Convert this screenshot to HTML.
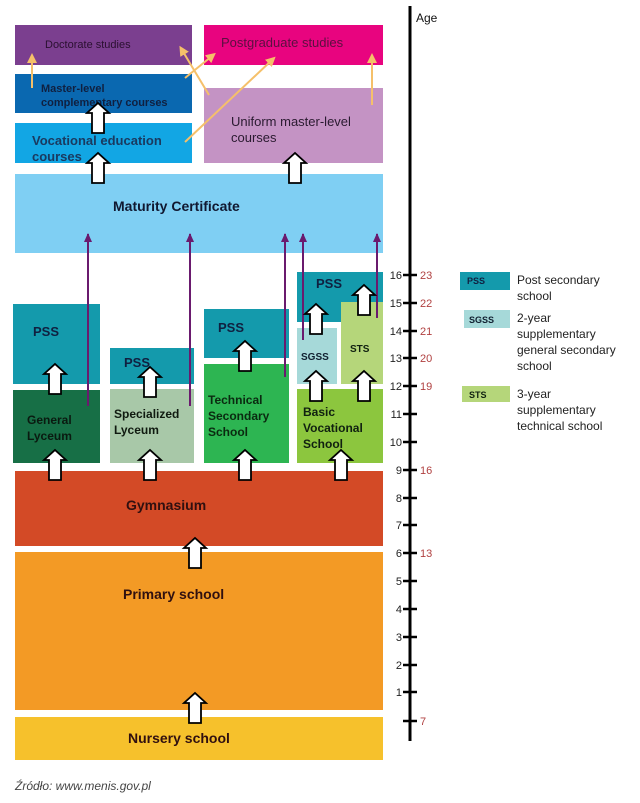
<!DOCTYPE html>
<html><head><meta charset="utf-8"><style>
body{margin:0;background:#fff;}
svg{display:block;font-family:"Liberation Sans",Arial,sans-serif;}
</style></head><body>
<svg width="640" height="803" viewBox="0 0 640 803" xmlns="http://www.w3.org/2000/svg">
<defs>
<g id="wa"><path d="M-6,30 L-6,10 L-11,10 L0,0 L11,10 L6,10 L6,30 Z" fill="#fff" stroke="#000" stroke-width="1.8"/></g>
<marker id="pa" markerWidth="9" markerHeight="9" refX="8" refY="4" orient="auto" markerUnits="userSpaceOnUse"><path d="M0,0 L9,4 L0,8 Z" fill="#6a1a6e"/></marker>
<marker id="ya" markerWidth="10" markerHeight="10" refX="5" refY="5" orient="auto" markerUnits="userSpaceOnUse"><path d="M0,0 L10,5 L0,10 Z" fill="#f5c06a"/></marker>
</defs>
<rect x="15" y="25" width="177" height="40" fill="#7b3f8f"/>
<text x="45" y="48" font-size="11" fill="#2a1030">Doctorate studies</text>
<rect x="204" y="25" width="179" height="40" fill="#e8047f"/>
<text x="221" y="47" font-size="13" fill="#5a1040">Postgraduate studies</text>
<rect x="15" y="74" width="177" height="39" fill="#0a68b0"/>
<text x="41" y="92" font-size="11" font-weight="bold" fill="#102040">Master-level</text>
<text x="41" y="106" font-size="11" font-weight="bold" fill="#102040">complementary courses</text>
<rect x="15" y="123" width="177" height="40" fill="#12a6e4"/>
<text x="32" y="145" font-size="13" font-weight="bold" fill="#1a3a60">Vocational education</text>
<text x="32" y="161" font-size="13" font-weight="bold" fill="#1a3a60">courses</text>
<rect x="204" y="88" width="179" height="75" fill="#c493c4"/>
<text x="231" y="126" font-size="13" fill="#2a1a30">Uniform master-level</text>
<text x="231" y="142" font-size="13" fill="#2a1a30">courses</text>
<rect x="15" y="174" width="368" height="79" fill="#7fcff3"/>
<text x="113" y="211" font-size="14" font-weight="bold" fill="#101830">Maturity Certificate</text>
<g stroke="#f5c06a" stroke-width="2" fill="none">
<line x1="32" y1="88" x2="32" y2="58" marker-end="url(#ya)"/>
<line x1="209" y1="95" x2="182" y2="50" marker-end="url(#ya)"/>
<line x1="185" y1="78" x2="212" y2="56" marker-end="url(#ya)"/>
<line x1="185" y1="142" x2="272" y2="60" marker-end="url(#ya)"/>
<line x1="372" y1="105" x2="372" y2="58" marker-end="url(#ya)"/>
</g>
<rect x="13" y="304" width="87" height="80" fill="#149aac"/>
<text x="33" y="336" font-size="13" font-weight="bold" fill="#102040">PSS</text>
<rect x="13" y="390" width="87" height="73" fill="#176f46"/>
<text x="27" y="424" font-size="12" font-weight="bold" fill="#0a1a10">General</text>
<text x="27" y="440" font-size="12" font-weight="bold" fill="#0a1a10">Lyceum</text>
<rect x="110" y="348" width="84" height="36" fill="#149aac"/>
<text x="124" y="367" font-size="13" font-weight="bold" fill="#102040">PSS</text>
<rect x="110" y="389" width="84" height="74" fill="#a8c8a8"/>
<text x="114" y="418" font-size="12" font-weight="bold" fill="#101a10">Specialized</text>
<text x="114" y="434" font-size="12" font-weight="bold" fill="#101a10">Lyceum</text>
<rect x="204" y="309" width="85" height="49" fill="#149aac"/>
<text x="218" y="332" font-size="13" font-weight="bold" fill="#102040">PSS</text>
<rect x="204" y="364" width="85" height="99" fill="#2db552"/>
<text x="208" y="404" font-size="12" font-weight="bold" fill="#0a2a10">Technical</text>
<text x="208" y="420" font-size="12" font-weight="bold" fill="#0a2a10">Secondary</text>
<text x="208" y="436" font-size="12" font-weight="bold" fill="#0a2a10">School</text>
<rect x="297" y="272" width="86" height="50" fill="#149aac"/>
<text x="316" y="288" font-size="13" font-weight="bold" fill="#102040">PSS</text>
<rect x="297" y="328" width="40" height="56" fill="#a6d9d9"/>
<text x="301" y="360" font-size="10" font-weight="bold" fill="#102030">SGSS</text>
<rect x="341" y="302" width="42" height="82" fill="#b5d67a"/>
<text x="350" y="352" font-size="10" font-weight="bold" fill="#102010">STS</text>
<rect x="297" y="389" width="86" height="74" fill="#8cc63e"/>
<text x="303" y="416" font-size="12" font-weight="bold" fill="#102010">Basic</text>
<text x="303" y="432" font-size="12" font-weight="bold" fill="#102010">Vocational</text>
<text x="303" y="448" font-size="12" font-weight="bold" fill="#102010">School</text>
<rect x="15" y="471" width="368" height="75" fill="#d34a26"/>
<text x="126" y="510" font-size="14" font-weight="bold" fill="#301010">Gymnasium</text>
<rect x="15" y="552" width="368" height="158" fill="#f39a25"/>
<text x="123" y="599" font-size="14" font-weight="bold" fill="#301010">Primary school</text>
<rect x="15" y="717" width="368" height="43" fill="#f6c12c"/>
<text x="128" y="743" font-size="14" font-weight="bold" fill="#301010">Nursery school</text>
<g stroke="#6a1a6e" stroke-width="2">
<line x1="88" y1="406" x2="88" y2="234" marker-end="url(#pa)"/>
<line x1="190" y1="406" x2="190" y2="234" marker-end="url(#pa)"/>
<line x1="285" y1="377" x2="285" y2="234" marker-end="url(#pa)"/>
<line x1="303" y1="340" x2="303" y2="234" marker-end="url(#pa)"/>
<line x1="377" y1="318" x2="377" y2="234" marker-end="url(#pa)"/>
</g>
<use href="#wa" x="98" y="103"/>
<use href="#wa" x="98" y="153"/>
<use href="#wa" x="295" y="153"/>
<use href="#wa" x="55" y="364"/>
<use href="#wa" x="55" y="450"/>
<use href="#wa" x="150" y="367"/>
<use href="#wa" x="150" y="450"/>
<use href="#wa" x="245" y="341"/>
<use href="#wa" x="245" y="450"/>
<use href="#wa" x="316" y="304"/>
<use href="#wa" x="364" y="285"/>
<use href="#wa" x="316" y="371"/>
<use href="#wa" x="364" y="371"/>
<use href="#wa" x="341" y="450"/>
<use href="#wa" x="195" y="538"/>
<use href="#wa" x="195" y="693"/>
<line x1="410" y1="6" x2="410" y2="741" stroke="#000" stroke-width="3"/>
<text x="416" y="22" font-size="12" fill="#111">Age</text>
<g stroke="#000" stroke-width="2.5">
<line x1="403" y1="275" x2="417" y2="275"/><line x1="403" y1="303" x2="417" y2="303"/>
<line x1="403" y1="331" x2="417" y2="331"/><line x1="403" y1="358" x2="417" y2="358"/>
<line x1="403" y1="386" x2="417" y2="386"/><line x1="403" y1="414" x2="417" y2="414"/>
<line x1="403" y1="442" x2="417" y2="442"/><line x1="403" y1="470" x2="417" y2="470"/>
<line x1="403" y1="498" x2="417" y2="498"/><line x1="403" y1="525" x2="417" y2="525"/>
<line x1="403" y1="553" x2="417" y2="553"/><line x1="403" y1="581" x2="417" y2="581"/>
<line x1="403" y1="609" x2="417" y2="609"/><line x1="403" y1="637" x2="417" y2="637"/>
<line x1="403" y1="665" x2="417" y2="665"/><line x1="403" y1="692" x2="417" y2="692"/>
<line x1="403" y1="721" x2="417" y2="721"/>
</g>
<g font-size="11" fill="#222" text-anchor="end">
<text x="402" y="279">16</text><text x="402" y="307">15</text><text x="402" y="335">14</text>
<text x="402" y="362">13</text><text x="402" y="390">12</text><text x="402" y="418">11</text>
<text x="402" y="446">10</text><text x="402" y="474">9</text><text x="402" y="502">8</text>
<text x="402" y="529">7</text><text x="402" y="557">6</text><text x="402" y="585">5</text>
<text x="402" y="613">4</text><text x="402" y="641">3</text><text x="402" y="669">2</text>
<text x="402" y="696">1</text>
</g>
<g font-size="11" fill="#b04040">
<text x="420" y="279">23</text><text x="420" y="307">22</text><text x="420" y="335">21</text>
<text x="420" y="362">20</text><text x="420" y="390">19</text><text x="420" y="474">16</text>
<text x="420" y="557">13</text><text x="420" y="725">7</text>
</g>
<rect x="460" y="272" width="50" height="18" fill="#149aac"/>
<text x="467" y="284" font-size="9" font-weight="bold" fill="#102040">PSS</text>
<text x="517" y="284" font-size="12" fill="#222">Post secondary</text>
<text x="517" y="300" font-size="12" fill="#222">school</text>
<rect x="464" y="310" width="46" height="18" fill="#a6d9d9"/>
<text x="469" y="323" font-size="9" font-weight="bold" fill="#102030">SGSS</text>
<text x="517" y="322" font-size="12" fill="#222">2-year</text>
<text x="517" y="338" font-size="12" fill="#222">supplementary</text>
<text x="517" y="354" font-size="12" fill="#222">general secondary</text>
<text x="517" y="370" font-size="12" fill="#222">school</text>
<rect x="462" y="386" width="48" height="16" fill="#b5d67a"/>
<text x="469" y="398" font-size="9" font-weight="bold" fill="#102010">STS</text>
<text x="517" y="398" font-size="12" fill="#222">3-year</text>
<text x="517" y="414" font-size="12" fill="#222">supplementary</text>
<text x="517" y="430" font-size="12" fill="#222">technical school</text>
<text x="15" y="790" font-size="12" font-style="italic" fill="#444">Źródło: www.menis.gov.pl</text>
</svg>
</body></html>
